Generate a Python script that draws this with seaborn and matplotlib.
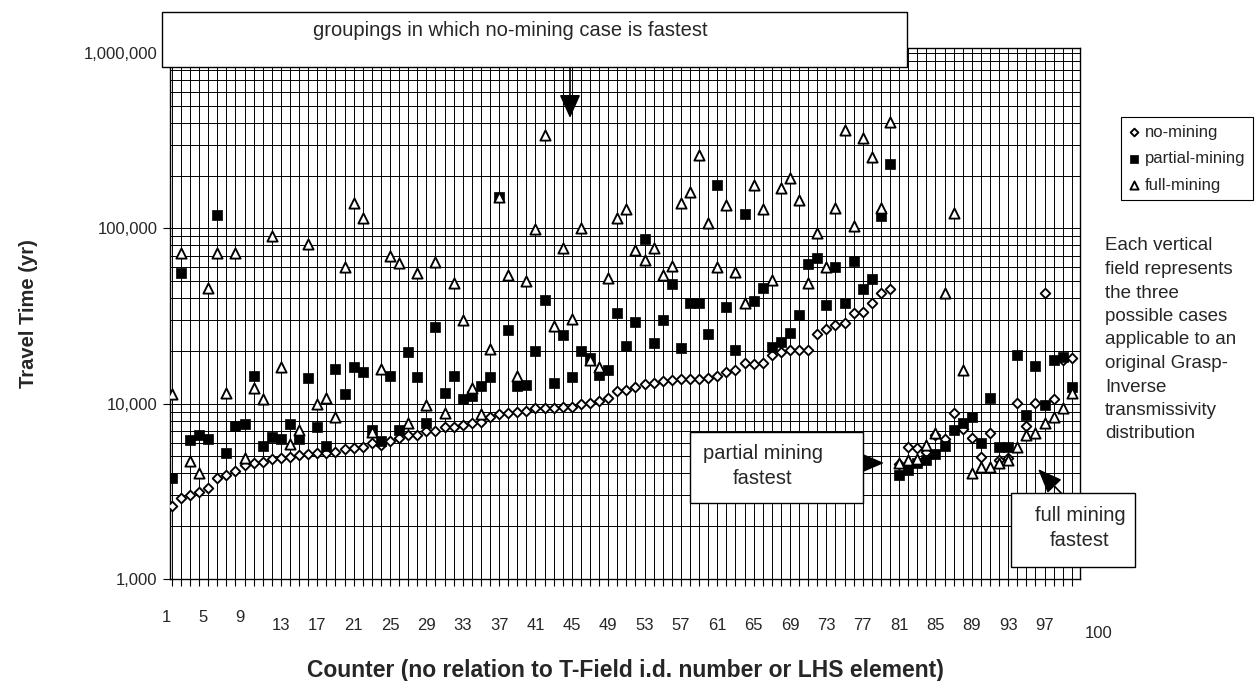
import numpy as np
import pandas as pd
import matplotlib
matplotlib.use("Agg")
import matplotlib.pyplot as plt
import matplotlib.transforms as mtransforms
import seaborn as sns
from matplotlib.patches import Rectangle
from matplotlib.ticker import FixedLocator, FixedFormatter, LogLocator, NullFormatter

# Data
counter = list(range(1, 101))

no_mining = [
    2610, 2885, 3015, 3150, 3290, 3785, 3920, 4150, 4470, 4605,
    4665, 4840, 4920, 4990, 5100, 5165, 5210, 5250, 5320, 5490,
    5560, 5685, 5945, 5810, 6150, 6350, 6630, 6630, 7015, 7015,
    7400, 7400, 7560, 7730, 7830, 8430, 8735, 8815, 8930, 9120,
    9415, 9415, 9415, 9530, 9610, 9955, 10040, 10400, 10740, 11820,
    11980, 12500, 12950, 13180, 13470, 13640, 13760, 13760, 13760, 14070,
    14380, 15230, 15570, 16990, 16830, 17140, 18960, 19800, 20230, 20230,
    20230, 25000, 26570, 28110, 28730, 32800, 33500, 37700, 43000, 44900,
    4500, 5690, 5560, 5300, 6600, 6300, 8810, 7200, 6350, 4990,
    6840, 4780, 4900, 10040, 7460, 10040, 43000, 10590, 17800, 18160,
]

partial_mining = [
    3790, 55900, 6210, 6600, 6300, 119000, 5210, 7460, 7620, 14390,
    5740, 6490, 6270, 7620, 6270, 14070, 7330, 5740, 15700, 11350,
    16140, 15240, 7080, 6120, 14450, 7080, 19800, 14130, 7730, 27500,
    11450, 14320, 10590, 11070, 12620, 14260, 152000, 26300, 12620, 12750,
    20000, 39100, 13060, 24660, 14260, 20000, 18270, 14590, 15560, 32800,
    21330, 29370, 86700, 22130, 30000, 48000, 20700, 37400, 37400, 25000,
    177000, 35700, 20230, 121000, 38700, 46000, 21140, 22600, 25200, 32100,
    62700, 67500, 36600, 60600, 37400, 65400, 45000, 51300, 118000, 232000,
    3920, 4200, 4600, 4780, 5180, 5740, 7080, 7730, 8440, 5940,
    10740, 5690, 5690, 18960, 8630, 16400, 9840, 17750, 18540, 12500,
]

full_mining = [
    11300, 72600, 4710, 4010, 45500, 72600, 11450, 72600, 4880, 12330,
    10590, 90600, 16140, 5890, 7080, 81200, 9950, 10740, 8440, 60600,
    140000, 114000, 6900, 15700, 69700, 63300, 7730, 55900, 9840, 64600,
    8810, 48600, 30000, 12250, 8690, 20400, 152000, 54200, 14390, 50100,
    98900, 341000, 27700, 77100, 30300, 100000, 17800, 16140, 51800, 114000,
    129000, 75300, 66000, 77100, 54200, 61300, 139000, 162000, 262000, 108000,
    60600, 136000, 56600, 37400, 177000, 129000, 50800, 169000, 193000, 145000,
    48600, 93700, 60600, 130000, 364000, 103000, 329000, 256000, 130000, 406000,
    4600, 4780, 4830, 5800, 6770, 42700, 122000, 15570, 4040, 4370,
    4370, 4600, 4780, 5690, 6620, 6770, 7730, 8440, 9410, 11450,
]

x_ticks = [1, 5, 9, 13, 17, 21, 25, 29, 33, 37, 41, 45, 49, 53, 57, 61,
           65, 69, 73, 77, 81, 85, 89, 93, 97, 100]
y_ticks = [1000, 10000, 100000, 1000000]
y_tick_labels = ["1,000", "10,000", "100,000", "1,000,000"]

df = pd.DataFrame({
    "Counter": counter,
    "no-mining": no_mining,
    "partial-mining": partial_mining,
    "full-mining": full_mining,
})

sns.set_style("white")
plt.rcParams["font.family"] = ["Liberation Sans", "DejaVu Sans"]

W, H = 1260, 681
fig = plt.figure(figsize=(W / 100, H / 100), dpi=100)
ax = fig.add_axes([170 / W, 102 / H, 910 / W, 531 / H])

sns.scatterplot(data=df, x="Counter", y="no-mining", marker="D", s=24,
                color="white", edgecolor="black", linewidth=1.35,
                label="no-mining", ax=ax, zorder=3)
sns.scatterplot(data=df, x="Counter", y="partial-mining", marker="s", s=58,
                color="black", edgecolor="black", linewidth=0.5,
                label="partial-mining", ax=ax, zorder=4)
sns.scatterplot(data=df, x="Counter", y="full-mining", marker="^", s=54,
                color="white", edgecolor="black", linewidth=1.35,
                label="full-mining", ax=ax, zorder=5)

ax.set_yscale("log")
ax.set_ylim(1000, 10 ** 6.029)
ax.set_xlim(0.8, 100.9)

ax.yaxis.set_major_locator(FixedLocator(y_ticks))
ax.yaxis.set_major_formatter(FixedFormatter(y_tick_labels))
ax.yaxis.set_minor_locator(LogLocator(base=10, subs=np.arange(2, 10)))
ax.yaxis.set_minor_formatter(NullFormatter())

ax.xaxis.set_major_locator(FixedLocator(x_ticks))
ax.xaxis.set_major_formatter(FixedFormatter([str(v) for v in x_ticks]))
ax.xaxis.set_minor_locator(FixedLocator(counter))

ax.grid(True, which="both", axis="both", color="black", linewidth=0.7)
ax.set_axisbelow(True)
for side in ["top", "right", "bottom", "left"]:
    ax.spines[side].set_color("black")
    ax.spines[side].set_linewidth(1.0)

ax.tick_params(axis="y", which="major", left=True, length=5, width=0.8,
               color="black", labelsize=12, pad=4)
ax.tick_params(axis="y", which="minor", left=False)
ax.tick_params(axis="x", which="both", bottom=True, length=5, width=0.8,
               color="black", labelsize=12)

# staggered x tick labels, like the original spreadsheet axis
for tick, val in zip(ax.xaxis.get_major_ticks(), x_ticks):
    if val < 13:
        tick.set_pad(17)
        shift = -5
    elif val == 100:
        tick.set_pad(29)
        shift = 27
    else:
        tick.set_pad(23)
        shift = 0
    off = mtransforms.ScaledTranslation(shift / 100, 0, fig.dpi_scale_trans)
    tick.label1.set_transform(tick.label1.get_transform() + off)

ax.set_xlabel("Counter (no relation to T-Field i.d. number or LHS element)",
              fontsize=16.5, fontweight="bold")
ax.set_ylabel("Travel Time (yr)", fontsize=14.5, fontweight="bold")
ax.xaxis.set_label_coords(0.5, (22 - 102) / 531)
ax.yaxis.set_label_coords((38 - 170) / 910, 0.5)

leg = ax.legend(loc="upper left", bbox_to_anchor=(1121 / W, 1 - 117 / H),
                bbox_transform=fig.transFigure, borderaxespad=0,
                fontsize=12, frameon=True, fancybox=False, framealpha=1,
                edgecolor="black", borderpad=0.45, labelspacing=0.7,
                handlelength=0.7, handletextpad=0.3, markerscale=0.8)
leg.get_frame().set_linewidth(0.8)


def box(x0, y0, x1, y1):
    fig.add_artist(Rectangle((x0 / W, 1 - y1 / H), (x1 - x0) / W, (y1 - y0) / H,
                             transform=fig.transFigure, facecolor="white",
                             edgecolor="black", linewidth=1.0, zorder=5))


box(162, 12, 907, 67)
fig.text(510 / W, 1 - 31 / H, "groupings in which no-mining case is fastest",
         ha="center", va="center", fontsize=14.5, zorder=6)

box(690, 432, 863, 503)
fig.text(763 / W, 1 - 466 / H, "partial mining\nfastest", ha="center",
         va="center", fontsize=14.5, linespacing=1.45, zorder=6)

box(1011, 493, 1135, 567)
fig.text(1080 / W, 1 - 528 / H, "full mining\nfastest", ha="center",
         va="center", fontsize=14.5, linespacing=1.45, zorder=6)

fig.text(1105 / W, 1 - 340 / H,
         "Each vertical\nfield represents\nthe three\npossible cases\n"
         "applicable to an\noriginal Grasp-\nInverse\ntransmissivity\ndistribution",
         ha="left", va="center", fontsize=13.5, linespacing=1.5)


def arrow(tail, tip, hl, hw):
    ax.annotate("", xy=(tip[0], H - tip[1]), xytext=(tail[0], H - tail[1]),
                xycoords="figure pixels", textcoords="figure pixels",
                arrowprops=dict(arrowstyle=f"-|>,head_length={hl},head_width={hw}",
                                color="black", lw=1.2, shrinkA=0, shrinkB=0,
                                mutation_scale=10),
                annotation_clip=False, zorder=7)


arrow((570, 67), (570, 118), 1.45, 0.65)
arrow((862, 463), (884, 463), 1.4, 0.6)
arrow((1062, 494), (1038, 469), 1.5, 0.6)

fig.savefig("out.png", dpi=100)
